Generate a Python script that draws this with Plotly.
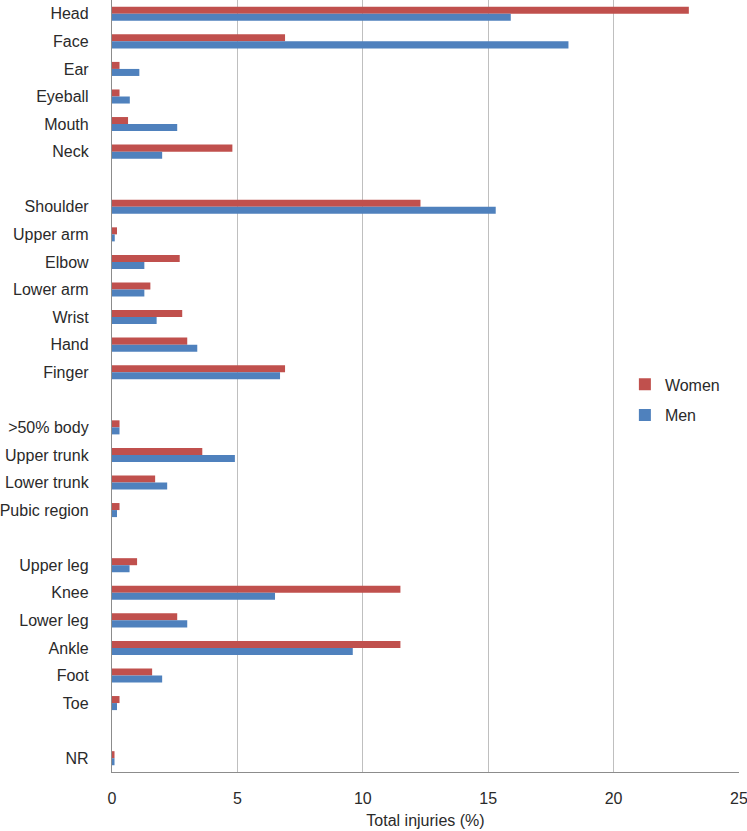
import plotly.graph_objects as go

# Categories top-to-bottom; "" marks an empty spacer row
categories = ["Head", "Face", "Ear", "Eyeball", "Mouth", "Neck", "",
              "Shoulder", "Upper arm", "Elbow", "Lower arm", "Wrist", "Hand", "Finger", "",
              ">50% body", "Upper trunk", "Lower trunk", "Pubic region", "",
              "Upper leg", "Knee", "Lower leg", "Ankle", "Foot", "Toe", "",
              "NR"]
women = [23.0, 6.9, 0.3, 0.3, 0.64, 4.8, None,
         12.3, 0.2, 2.7, 1.53, 2.8, 3.0, 6.9, None,
         0.3, 3.6, 1.72, 0.3, None,
         1.0, 11.5, 2.6, 11.5, 1.6, 0.3, None,
         0.1]
men = [15.9, 18.2, 1.09, 0.71, 2.6, 2.0, None,
       15.3, 0.11, 1.29, 1.29, 1.78, 3.4, 6.7, None,
       0.3, 4.9, 2.2, 0.2, None,
       0.7, 6.5, 3.0, 9.6, 2.0, 0.2, None,
       0.1]
x_ticks = [0, 5, 10, 15, 20, 25]

rows = list(range(len(categories)))

fig = go.Figure()
fig.add_trace(go.Bar(y=rows, x=women, name="Women", orientation="h", legendgroup="w",
                     marker=dict(color="#C0504D", line=dict(width=0))))
fig.add_trace(go.Bar(y=rows, x=men, name="Men", orientation="h", legendgroup="m",
                     marker=dict(color="#4F81BD", line=dict(width=0))))

font = "Liberation Sans, Arial, sans-serif"
fig.update_layout(
    width=747, height=831,
    margin=dict(l=112, r=8, t=0, b=59),
    paper_bgcolor="white", plot_bgcolor="white",
    barmode="group", bargap=0.49, bargroupgap=0,
    font=dict(family=font, size=16, color="#2a2a2a"),
    legend=dict(x=0.818, y=0.482, xanchor="left", yanchor="middle",
                font=dict(size=16, color="#2a2a2a"), itemwidth=30,
                traceorder="grouped", tracegroupgap=7, bgcolor="rgba(0,0,0,0)"),
    showlegend=True,
)
fig.update_xaxes(range=[0, 25], tickvals=x_ticks, ticks="", automargin=False,
                 showgrid=True, gridcolor="#BFBFBF", gridwidth=1.3,
                 zeroline=False, showline=True, linecolor="#8C8C8C", linewidth=1.3,
                 mirror=False, ticklabelstandoff=12, ticklabeloverflow="allow",
                 tickfont=dict(size=16, color="#2a2a2a"),
                 title=dict(text="Total injuries (%)", font=dict(size=16, color="#2a2a2a"), standoff=8))
fig.update_yaxes(range=[len(categories) - 0.5, -0.5], tickvals=rows, ticktext=categories,
                 ticks="", showgrid=False, zeroline=False, automargin=False,
                 showline=True, linecolor="#8C8C8C", linewidth=1.3,
                 ticklabelstandoff=19, tickfont=dict(size=16, color="#2a2a2a"))

fig.write_html("out.html", config={"displayModeBar": False},
               post_script="document.body.style.margin='0px';document.body.style.overflow='hidden';")
